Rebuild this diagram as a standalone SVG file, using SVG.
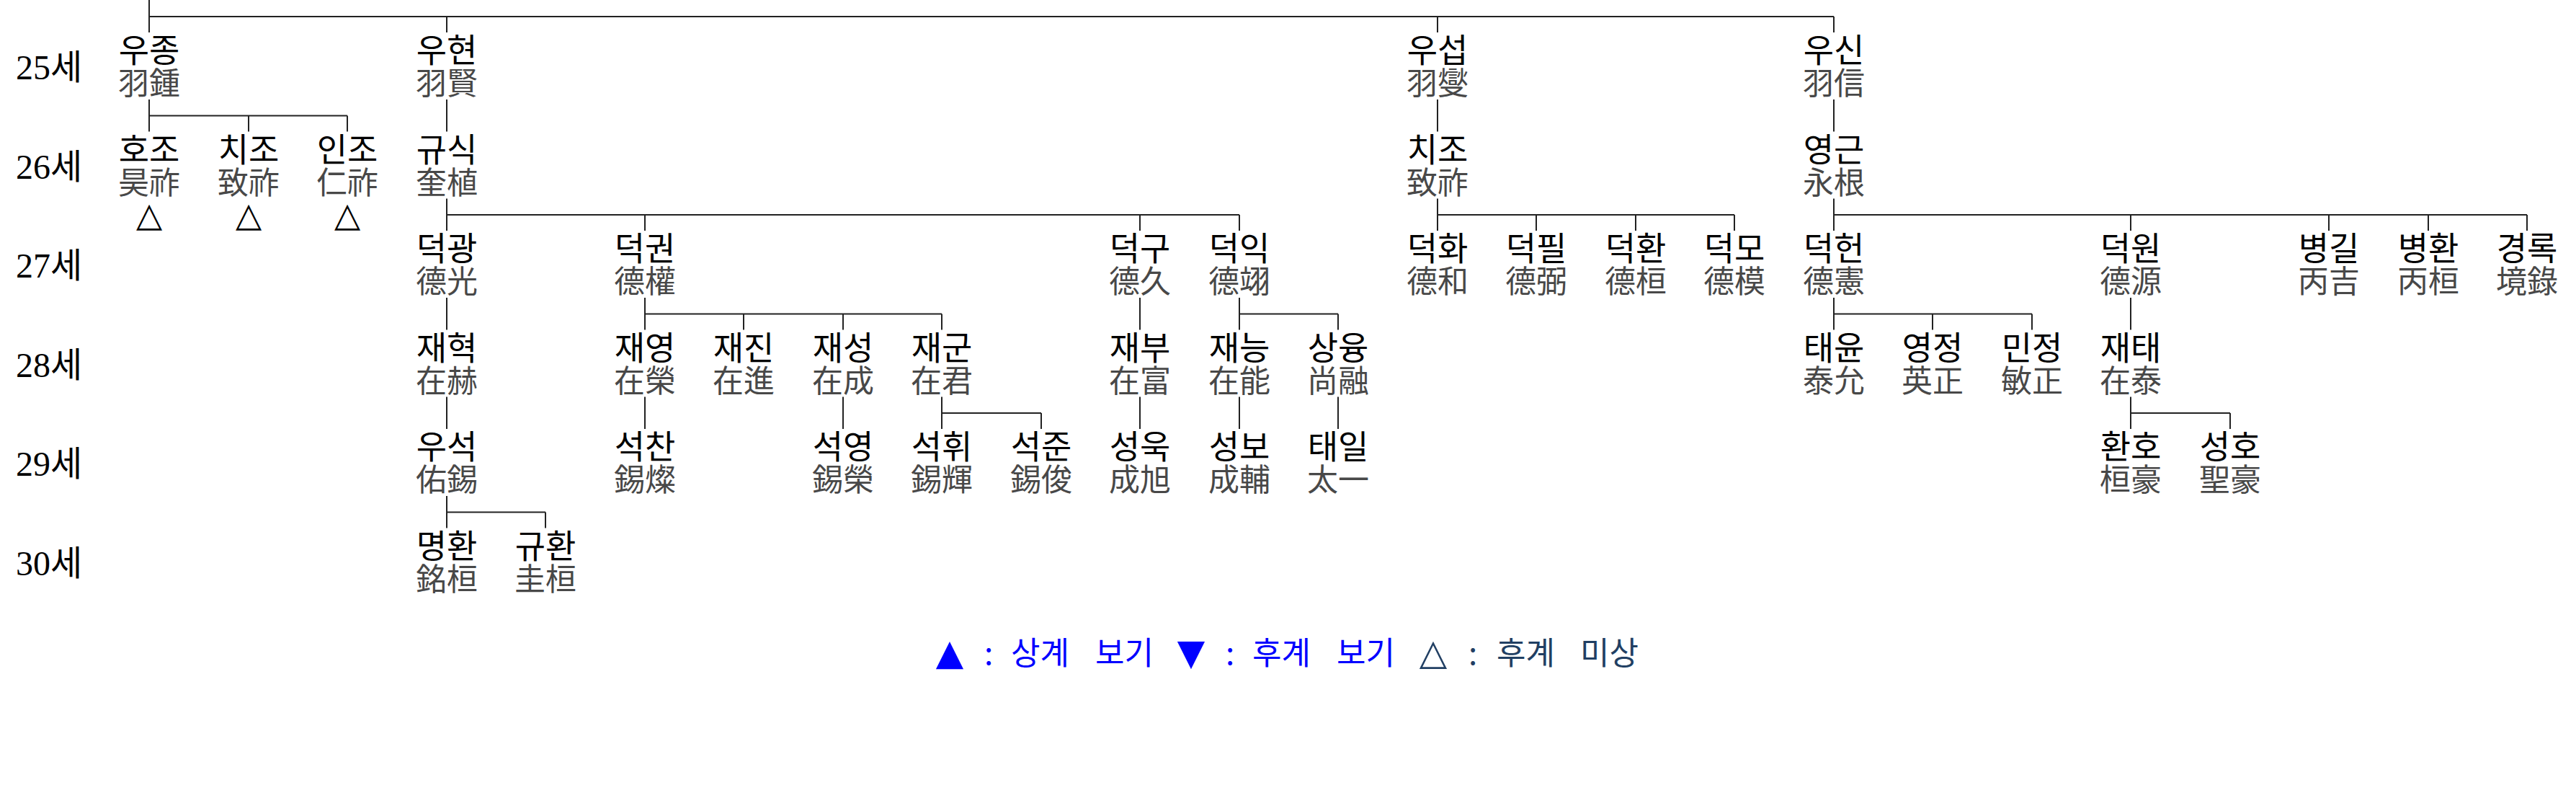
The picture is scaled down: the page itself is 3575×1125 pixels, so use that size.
<svg xmlns="http://www.w3.org/2000/svg" width="3575" height="1125" viewBox="0 0 3575 1125">
<style>
.nd{font-family:"Noto Sans CJK KR","Noto Sans CJK TC",sans-serif;text-anchor:middle}
.hg{font-size:46px;fill:#000}
.hj{font-size:43px;fill:#484848}
.tri{font-family:"DejaVu Sans",sans-serif;font-size:47px;fill:#000}
.gen{font-family:"Liberation Serif","Noto Sans CJK KR",serif;font-size:48px;fill:#000}
.lg{font-family:"Noto Sans CJK KR",sans-serif;font-size:44px;fill:#0000ff}
.lgt{font-family:"DejaVu Sans",sans-serif;font-size:50px;text-anchor:middle}
.nv{fill:#213f63}
#connectors path{fill:none;stroke:#222;stroke-width:2}
</style>
<rect width="3575" height="1125" fill="#fff"/>
<g id="connectors">
<path d="M207 0V45M207 23H2545M620 23V45M1995 23V45M2545 23V45"/>
<path d="M207 138V182.5M207 160.5H482M345 160.5V182.5M482 160.5V182.5M620 138V182.5M1995 138V182.5M2545 138V182.5"/>
<path d="M620 275.5V320M620 298H1720M895 298V320M1582 298V320M1720 298V320"/>
<path d="M1995 275.5V320M1995 298H2407M2132 298V320M2270 298V320M2407 298V320"/>
<path d="M2545 275.5V320M2545 298H3507M2957 298V320M3232 298V320M3370 298V320M3507 298V320"/>
<path d="M620 413V457.5M895 413V457.5M895 435.5H1307M1032 435.5V457.5M1170 435.5V457.5M1307 435.5V457.5M1582 413V457.5M1720 413V457.5M1720 435.5H1857M1857 435.5V457.5M2545 413V457.5M2545 435.5H2820M2682 435.5V457.5M2820 435.5V457.5M2957 413V457.5"/>
<path d="M620 550.5V595M895 550.5V595M1170 550.5V595M1307 550.5V595M1307 573H1445M1445 573V595M1582 550.5V595M1720 550.5V595M1857 550.5V595M2957 550.5V595M2957 573H3095M3095 573V595"/>
<path d="M620 688V732.5M620 710.5H757M757 710.5V732.5"/>
</g>
<g id="generations">
<text class="gen" x="22" y="110">25세</text>
<text class="gen" x="22" y="247.5">26세</text>
<text class="gen" x="22" y="385">27세</text>
<text class="gen" x="22" y="522.5">28세</text>
<text class="gen" x="22" y="660">29세</text>
<text class="gen" x="22" y="797.5">30세</text>
</g>
<g id="n-wujong"><text class="nd" x="207" y="86"><tspan class="hg">우종</tspan><tspan class="hj" x="207" dy="45">羽鍾</tspan></text></g>
<g id="n-wuhyeon"><text class="nd" x="620" y="86"><tspan class="hg">우현</tspan><tspan class="hj" x="620" dy="45">羽賢</tspan></text></g>
<g id="n-wuseop"><text class="nd" x="1995" y="86"><tspan class="hg">우섭</tspan><tspan class="hj" x="1995" dy="45">羽燮</tspan></text></g>
<g id="n-wusin"><text class="nd" x="2545" y="86"><tspan class="hg">우신</tspan><tspan class="hj" x="2545" dy="45">羽信</tspan></text></g>
<g id="n-hojo"><text class="nd" x="207" y="223.5"><tspan class="hg">호조</tspan><tspan class="hj" x="207" dy="45">昊祚</tspan><tspan class="tri" x="207" dy="45">△</tspan></text></g>
<g id="n-chijo1"><text class="nd" x="345" y="223.5"><tspan class="hg">치조</tspan><tspan class="hj" x="345" dy="45">致祚</tspan><tspan class="tri" x="345" dy="45">△</tspan></text></g>
<g id="n-injo"><text class="nd" x="482" y="223.5"><tspan class="hg">인조</tspan><tspan class="hj" x="482" dy="45">仁祚</tspan><tspan class="tri" x="482" dy="45">△</tspan></text></g>
<g id="n-gyusik"><text class="nd" x="620" y="223.5"><tspan class="hg">규식</tspan><tspan class="hj" x="620" dy="45">奎植</tspan></text></g>
<g id="n-chijo2"><text class="nd" x="1995" y="223.5"><tspan class="hg">치조</tspan><tspan class="hj" x="1995" dy="45">致祚</tspan></text></g>
<g id="n-yeonggeun"><text class="nd" x="2545" y="223.5"><tspan class="hg">영근</tspan><tspan class="hj" x="2545" dy="45">永根</tspan></text></g>
<g id="n-deokgwang"><text class="nd" x="620" y="361"><tspan class="hg">덕광</tspan><tspan class="hj" x="620" dy="45">德光</tspan></text></g>
<g id="n-deokgwon"><text class="nd" x="895" y="361"><tspan class="hg">덕권</tspan><tspan class="hj" x="895" dy="45">德權</tspan></text></g>
<g id="n-deokgu"><text class="nd" x="1582" y="361"><tspan class="hg">덕구</tspan><tspan class="hj" x="1582" dy="45">德久</tspan></text></g>
<g id="n-deogik"><text class="nd" x="1720" y="361"><tspan class="hg">덕익</tspan><tspan class="hj" x="1720" dy="45">德翊</tspan></text></g>
<g id="n-deokhwa"><text class="nd" x="1995" y="361"><tspan class="hg">덕화</tspan><tspan class="hj" x="1995" dy="45">德和</tspan></text></g>
<g id="n-deokpil"><text class="nd" x="2132" y="361"><tspan class="hg">덕필</tspan><tspan class="hj" x="2132" dy="45">德弼</tspan></text></g>
<g id="n-deokhwan"><text class="nd" x="2270" y="361"><tspan class="hg">덕환</tspan><tspan class="hj" x="2270" dy="45">德桓</tspan></text></g>
<g id="n-deokmo"><text class="nd" x="2407" y="361"><tspan class="hg">덕모</tspan><tspan class="hj" x="2407" dy="45">德模</tspan></text></g>
<g id="n-deokheon"><text class="nd" x="2545" y="361"><tspan class="hg">덕헌</tspan><tspan class="hj" x="2545" dy="45">德憲</tspan></text></g>
<g id="n-deogwon"><text class="nd" x="2957" y="361"><tspan class="hg">덕원</tspan><tspan class="hj" x="2957" dy="45">德源</tspan></text></g>
<g id="n-byeonggil"><text class="nd" x="3232" y="361"><tspan class="hg">병길</tspan><tspan class="hj" x="3232" dy="45">丙吉</tspan></text></g>
<g id="n-byeonghwan"><text class="nd" x="3370" y="361"><tspan class="hg">병환</tspan><tspan class="hj" x="3370" dy="45">丙桓</tspan></text></g>
<g id="n-gyeongnok"><text class="nd" x="3507" y="361"><tspan class="hg">경록</tspan><tspan class="hj" x="3507" dy="45">境錄</tspan></text></g>
<g id="n-jaehyeok"><text class="nd" x="620" y="498.5"><tspan class="hg">재혁</tspan><tspan class="hj" x="620" dy="45">在赫</tspan></text></g>
<g id="n-jaeyeong"><text class="nd" x="895" y="498.5"><tspan class="hg">재영</tspan><tspan class="hj" x="895" dy="45">在榮</tspan></text></g>
<g id="n-jaejin"><text class="nd" x="1032" y="498.5"><tspan class="hg">재진</tspan><tspan class="hj" x="1032" dy="45">在進</tspan></text></g>
<g id="n-jaeseong"><text class="nd" x="1170" y="498.5"><tspan class="hg">재성</tspan><tspan class="hj" x="1170" dy="45">在成</tspan></text></g>
<g id="n-jaegun"><text class="nd" x="1307" y="498.5"><tspan class="hg">재군</tspan><tspan class="hj" x="1307" dy="45">在君</tspan></text></g>
<g id="n-jaebu"><text class="nd" x="1582" y="498.5"><tspan class="hg">재부</tspan><tspan class="hj" x="1582" dy="45">在富</tspan></text></g>
<g id="n-jaeneung"><text class="nd" x="1720" y="498.5"><tspan class="hg">재능</tspan><tspan class="hj" x="1720" dy="45">在能</tspan></text></g>
<g id="n-sangyung"><text class="nd" x="1857" y="498.5"><tspan class="hg">상융</tspan><tspan class="hj" x="1857" dy="45">尚融</tspan></text></g>
<g id="n-taeyun"><text class="nd" x="2545" y="498.5"><tspan class="hg">태윤</tspan><tspan class="hj" x="2545" dy="45">泰允</tspan></text></g>
<g id="n-yeongjeong"><text class="nd" x="2682" y="498.5"><tspan class="hg">영정</tspan><tspan class="hj" x="2682" dy="45">英正</tspan></text></g>
<g id="n-minjeong"><text class="nd" x="2820" y="498.5"><tspan class="hg">민정</tspan><tspan class="hj" x="2820" dy="45">敏正</tspan></text></g>
<g id="n-jaetae"><text class="nd" x="2957" y="498.5"><tspan class="hg">재태</tspan><tspan class="hj" x="2957" dy="45">在泰</tspan></text></g>
<g id="n-useok"><text class="nd" x="620" y="636"><tspan class="hg">우석</tspan><tspan class="hj" x="620" dy="45">佑錫</tspan></text></g>
<g id="n-seokchan"><text class="nd" x="895" y="636"><tspan class="hg">석찬</tspan><tspan class="hj" x="895" dy="45">錫燦</tspan></text></g>
<g id="n-seogyeong"><text class="nd" x="1170" y="636"><tspan class="hg">석영</tspan><tspan class="hj" x="1170" dy="45">錫榮</tspan></text></g>
<g id="n-seokhwi"><text class="nd" x="1307" y="636"><tspan class="hg">석휘</tspan><tspan class="hj" x="1307" dy="45">錫輝</tspan></text></g>
<g id="n-seokjun"><text class="nd" x="1445" y="636"><tspan class="hg">석준</tspan><tspan class="hj" x="1445" dy="45">錫俊</tspan></text></g>
<g id="n-seonguk"><text class="nd" x="1582" y="636"><tspan class="hg">성욱</tspan><tspan class="hj" x="1582" dy="45">成旭</tspan></text></g>
<g id="n-seongbo"><text class="nd" x="1720" y="636"><tspan class="hg">성보</tspan><tspan class="hj" x="1720" dy="45">成輔</tspan></text></g>
<g id="n-taeil"><text class="nd" x="1857" y="636"><tspan class="hg">태일</tspan><tspan class="hj" x="1857" dy="45">太一</tspan></text></g>
<g id="n-hwanho"><text class="nd" x="2957" y="636"><tspan class="hg">환호</tspan><tspan class="hj" x="2957" dy="45">桓豪</tspan></text></g>
<g id="n-seongho"><text class="nd" x="3095" y="636"><tspan class="hg">성호</tspan><tspan class="hj" x="3095" dy="45">聖豪</tspan></text></g>
<g id="n-myeonghwan"><text class="nd" x="620" y="773.5"><tspan class="hg">명환</tspan><tspan class="hj" x="620" dy="45">銘桓</tspan></text></g>
<g id="n-gyuhwan"><text class="nd" x="757" y="773.5"><tspan class="hg">규환</tspan><tspan class="hj" x="757" dy="45">圭桓</tspan></text></g>
<g id="legend">
<text class="lg" y="922"><tspan class="lgt" x="1318">▲</tspan><tspan x="1366">:</tspan><tspan x="1403">상계</tspan><tspan x="1520">보기</tspan><tspan class="lgt" x="1653">▼</tspan><tspan x="1701">:</tspan><tspan x="1738">후계</tspan><tspan x="1855">보기</tspan><tspan class="lgt nv" x="1989">△</tspan><tspan class="nv" x="2038">:</tspan><tspan class="nv" x="2077">후계</tspan><tspan class="nv" x="2193">미상</tspan></text>
</g>
</svg>
